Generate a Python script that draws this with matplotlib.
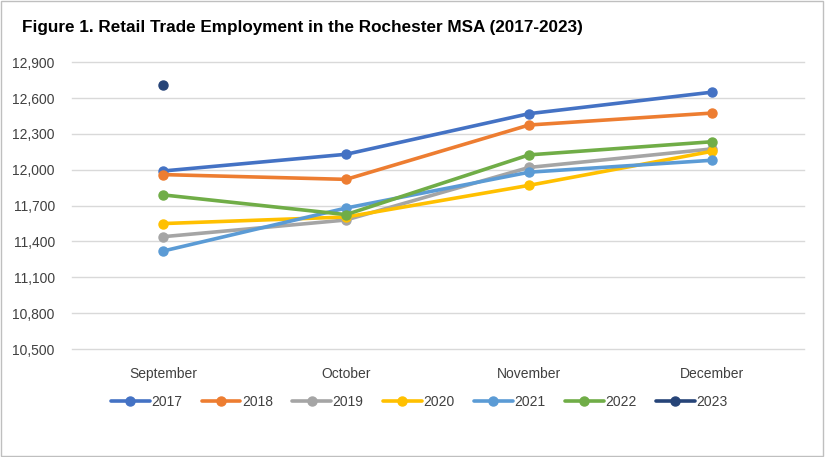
import numpy as np
import matplotlib
matplotlib.use("Agg")
import matplotlib.pyplot as plt
from matplotlib.patches import Rectangle

# Data
months = ["September", "October", "November", "December"]
years = ["2017", "2018", "2019", "2020", "2021", "2022", "2023"]
emp_2017 = [11990, 12130, 12470, 12650]
emp_2018 = [11960, 11920, 12375, 12475]
emp_2019 = [11440, 11580, 12020, 12175]
emp_2020 = [11550, 11605, 11870, 12155]
emp_2021 = [11320, 11680, 11980, 12080]
emp_2022 = [11790, 11625, 12125, 12235]
emp_2023 = [12710, np.nan, np.nan, np.nan]
yticks = [10500, 10800, 11100, 11400, 11700, 12000, 12300, 12600, 12900]

series = [emp_2017, emp_2018, emp_2019, emp_2020, emp_2021, emp_2022, emp_2023]
colors = ["#4472C4", "#ED7D31", "#A5A5A5", "#FFC000", "#5B9BD5", "#70AD47", "#264478"]

plt.rcParams["font.family"] = ["Liberation Sans", "DejaVu Sans"]

fig = plt.figure(figsize=(8.25, 4.57), dpi=100)
ax = fig.add_axes([0.0867, 0.2363, 0.8874, 0.6274])

x = np.arange(len(months))
for yr, vals, c in zip(years, series, colors):
    ax.plot(x, vals, color=c, lw=2.6, marker="o", markersize=6.5, label=yr,
            solid_capstyle="round")

ax.set_xlim(-0.5, len(months) - 0.5)
ax.set_ylim(10500, 12900)
ax.set_yticks(yticks)
ax.set_yticklabels([f"{v:,}" for v in yticks])
ax.set_xticks(x)
ax.set_xticklabels(months)
ax.tick_params(axis="both", length=0, labelsize=10, colors="#404040")
ax.tick_params(axis="x", pad=13)
ax.tick_params(axis="y", pad=12)
ax.grid(axis="y", color="#D9D9D9", lw=1)
for gl in ax.get_ygridlines():
    gl.set_clip_on(False)
ax.set_axisbelow(True)
for s in ax.spines.values():
    s.set_visible(False)

fig.text(0.027, 0.94, "Figure 1. Retail Trade Employment in the Rochester MSA (2017-2023)",
         fontsize=12.3, fontweight="bold", ha="left", va="center")

fig.legend(loc="center", bbox_to_anchor=(0.508, 0.12), ncol=7, frameon=False,
           fontsize=10, handlelength=2.8, columnspacing=1.4, handletextpad=0.1,
           labelcolor="#404040")

fig.patches.append(Rectangle((0.001, 0.002), 0.997, 0.995, transform=fig.transFigure,
                             fill=False, edgecolor="#BFBFBF", lw=1))

fig.savefig("out.png", dpi=100)
